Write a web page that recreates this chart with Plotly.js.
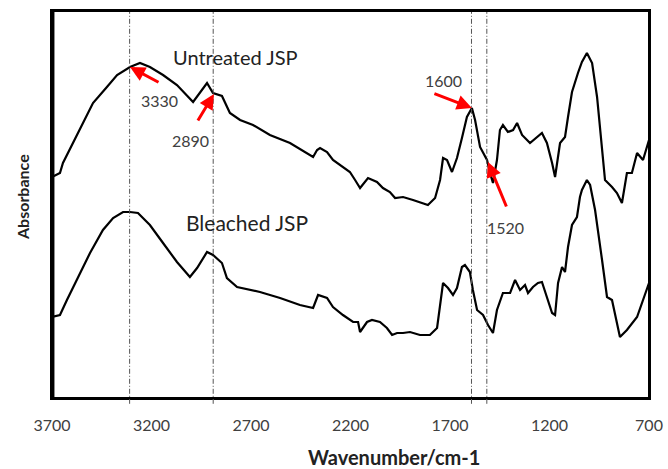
<!DOCTYPE html>
<html>
<head>
<meta charset="utf-8">
<script src="https://cdn.plot.ly/plotly-3.0.1.min.js"></script>
<style>html,body{margin:0;padding:0;background:#fff}#chart{width:668px;height:469px}</style>
</head>
<body>
<div id="chart"></div>
<script>
// Wavenumber (cm-1) and absorbance (arbitrary units)
const untreatedWn = [3700,3660,3645,3594,3544,3494,3424,3373,3308,3258,3208,3142,3072,2991,2921,2891,2846,2831,2806,2755,2690,2605,2504,2388,2368,2353,2318,2288,2253,2203,2177,2152,2112,2067,2037,2002,1976,1936,1886,1811,1775,1750,1735,1715,1690,1665,1640,1615,1590,1574,1549,1514,1499,1484,1464,1449,1434,1409,1383,1363,1338,1298,1238,1213,1187,1172,1147,1122,1107,1087,1057,1037,1012,986,961,936,921,886,861,836,811,786,760,730,700];
const untreatedAbs = [221,225,235,255,275,295,311,323,331,335,331,323,313,296,315,305,302,296,285,278,273,263,255,241,248,250,246,238,233,226,218,210,220,216,210,206,200,201,198,193,200,218,240,238,226,240,260,281,290,278,251,238,225,215,238,268,273,266,268,275,263,255,265,255,235,221,255,261,281,306,325,336,345,335,301,251,218,211,205,195,225,225,245,238,258];

const bleachedWn = [3700,3660,3625,3574,3509,3444,3393,3343,3308,3268,3208,3142,3072,3007,2971,2921,2891,2846,2821,2770,2705,2655,2554,2454,2388,2363,2318,2288,2238,2187,2162,2152,2117,2092,2052,2017,1991,1966,1936,1901,1851,1801,1765,1750,1735,1710,1685,1665,1640,1625,1600,1585,1564,1534,1509,1484,1464,1434,1398,1373,1348,1323,1308,1283,1258,1238,1213,1187,1172,1157,1137,1122,1107,1087,1062,1047,1037,1012,996,971,936,911,886,846,811,760,700];
const bleachedAbs = [81,83,98,118,145,168,180,186,186,185,173,155,136,121,130,146,143,135,120,111,108,106,100,93,90,103,100,91,83,76,76,66,76,78,76,70,63,65,65,66,63,63,70,91,115,110,103,110,131,133,126,108,88,83,73,65,88,105,105,118,108,113,105,111,115,116,101,85,83,115,131,126,151,173,181,201,208,218,213,188,138,101,98,61,68,81,115];

const xTicks = [3700,3200,2700,2200,1700,1200,700];
const markedPeaks = [3310,2890,1592,1515];
const peakLabels = ["3330","2890","1600","1520"];
const sampleNames = ["Untreated JSP","Bleached JSP"];

const FONT = 'Lato, "Liberation Sans", sans-serif';

const traces = [
  {x: untreatedWn, y: untreatedAbs, name: sampleNames[0], mode: 'lines', line: {color: '#000', width: 2.2}},
  {x: bleachedWn, y: bleachedAbs, name: sampleNames[1], mode: 'lines', line: {color: '#000', width: 2.2}}
];

const shapes = markedPeaks.map(p => ({
  type: 'line', xref: 'x', yref: 'paper', x0: p, x1: p, y0: -0.015, y1: 1.0,
  line: {color: '#555', width: 1, dash: '5px,2px,1px,2px'}
}));
// plot frame
shapes.push({type: 'rect', xref: 'paper', yref: 'paper', x0: 0, x1: 1, y0: 0, y1: 1,
  line: {color: '#000', width: 2}, fillcolor: 'rgba(0,0,0,0)', layer: 'above'});
shapes.push({type: 'line', xref: 'paper', yref: 'paper', x0: 0.002, x1: 0.002, y0: 0, y1: 1,
  line: {color: '#000', width: 2.5}, layer: 'above'});

const lblFont = {family: FONT, size: 16, color: '#404040'};
const arrowCommon = {text: '', showarrow: true, arrowhead: 2, arrowsize: 1, arrowwidth: 3, arrowcolor: '#ff0000', xref: 'x', yref: 'y', axref: 'pixel', ayref: 'pixel'};

const L = 52, R = 19, T = 11, B = 71, W = 668, H = 469;
const pw = W - L - R, ph = H - T - B;
const px = v => (v - L) / pw;        // pixel -> paper (x)
const py = v => (H - B - v) / ph;    // pixel -> paper (y)

const annotations = [
  Object.assign({x: 3308, y: 331, ax: 30, ay: 16}, arrowCommon),
  Object.assign({x: 2886, y: 304, ax: -17, ay: 28}, arrowCommon),
  Object.assign({x: 1590, y: 290, ax: -39, ay: -15}, arrowCommon),
  Object.assign({x: 1509, y: 236, ax: 19, ay: 46}, arrowCommon),
  {text: peakLabels[0], x: 3160, y: 298, xref: 'x', yref: 'y', showarrow: false, font: lblFont},
  {text: peakLabels[1], x: 3005, y: 258, xref: 'x', yref: 'y', showarrow: false, font: lblFont},
  {text: peakLabels[2], x: 1735, y: 318, xref: 'x', yref: 'y', showarrow: false, font: lblFont},
  {text: peakLabels[3], x: 1420, y: 171, xref: 'x', yref: 'y', showarrow: false, font: lblFont},
  {text: sampleNames[0], x: 2780, y: 341, xref: 'x', yref: 'y', showarrow: false,
   font: {family: FONT, size: 20, color: '#222'}},
  {text: sampleNames[1], x: 2720, y: 176, xref: 'x', yref: 'y', showarrow: false,
   font: {family: FONT, size: 21, color: '#222'}},
  {text: '<b>Wavenumber/cm-1</b>', x: px(394), y: py(457), xref: 'paper', yref: 'paper',
   xanchor: 'center', yanchor: 'middle', showarrow: false,
   font: {family: FONT, size: 20, color: '#222'}},
  {text: '<b>Absorbance</b>', x: px(22), y: py(197), xref: 'paper', yref: 'paper',
   xanchor: 'center', yanchor: 'middle', showarrow: false, textangle: -90,
   font: {family: FONT, size: 16, color: '#222'}}
];

const layout = {
  width: W, height: H,
  margin: {l: L, r: R, t: T, b: B},
  paper_bgcolor: '#fff', plot_bgcolor: '#fff',
  showlegend: false,
  xaxis: {
    range: [3700, 700], tickvals: xTicks, ticktext: xTicks.map(String),
    showgrid: false, zeroline: false, showline: true, mirror: true,
    linecolor: '#000', linewidth: 2, ticks: '', ticklabelstandoff: 12,
    ticklabeloverflow: 'allow',
    tickfont: {family: FONT, size: 16, color: '#404040'}
  },
  yaxis: {
    range: [0, 387], showticklabels: false, showgrid: false, zeroline: false,
    showline: true, mirror: true, linecolor: '#000', linewidth: 2, ticks: ''
  },
  shapes: shapes,
  annotations: annotations
};

Plotly.newPlot('chart', traces, layout, {displayModeBar: false, staticPlot: true});
</script>
</body>
</html>
